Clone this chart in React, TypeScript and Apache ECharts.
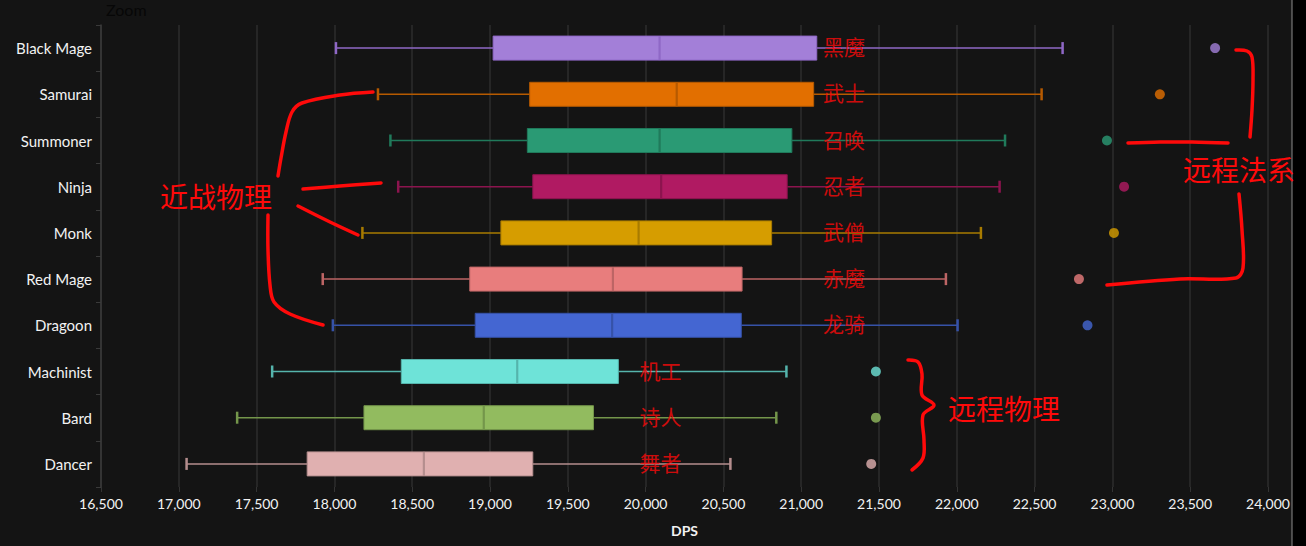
import React, { useEffect, useRef } from "react";
import * as echarts from "echarts";

const categories = ["Black Mage", "Samurai", "Summoner", "Ninja", "Monk", "Red Mage", "Dragoon", "Machinist", "Bard", "Dancer"];
const cnNames = ["黑魔", "武士", "召唤", "忍者", "武僧", "赤魔", "龙骑", "机工", "诗人", "舞者"];
const minVals = [18010, 18280, 18360, 18410, 18180, 17925, 17990, 17600, 17375, 17050];
const q1Vals = [19020, 19255, 19240, 19275, 19070, 18870, 18905, 18430, 18190, 17825];
const medianVals = [20090, 20200, 20090, 20100, 19955, 19790, 19785, 19175, 18960, 18575];
const q3Vals = [21100, 21080, 20940, 20910, 20810, 20620, 20615, 19825, 19665, 19275];
const maxVals = [22680, 22545, 22310, 22275, 22155, 21930, 22005, 20905, 20840, 20545];
const outlierVals = [23660, 23305, 22965, 23075, 23010, 22785, 22840, 21480, 21480, 21450];
const labelAnchor = [21140, 21140, 21140, 21140, 21140, 21140, 21140, 19960, 19960, 19960];

const fills = ["#a37fd8", "#e26f00", "#2a9a74", "#b01a62", "#d69d00", "#e87d7d", "#4466d2", "#6ee3d8", "#92bb5f", "#e0b0b0"];
const borders = ["#8f68c6", "#b65a00", "#207a5b", "#8c144e", "#a87b00", "#bd6565", "#3652a8", "#55b4ac", "#74964b", "#b58e8e"];

const boxData = categories.map((_, i) => [i, minVals[i], q1Vals[i], medianVals[i], q3Vals[i], maxVals[i]]);

export default function App() {
  const ref = useRef<HTMLDivElement>(null);
  useEffect(() => {
    if (!ref.current) return;
    const chart = echarts.init(ref.current, null, { renderer: "svg" });
    const RED = "#ff0a0a";
    const stroke = (points: number[][]) => ({
      type: "polyline",
      z: 100,
      shape: { points, smooth: 0.35 },
      style: { stroke: RED, lineWidth: 3.5, fill: null, lineCap: "round", lineJoin: "round" },
    });
    const bigText = (x: number, y: number, text: string) => ({
      type: "text",
      z: 100,
      x,
      y,
      style: { text, fill: RED, font: "28px 'Noto Sans CJK SC'", textVerticalAlign: "middle" },
    });
    chart.setOption({
      animation: false,
      backgroundColor: "#141414",
      title: {
        text: "Zoom",
        left: 101,
        top: -4,
        textStyle: { color: "#070707", fontSize: 16, fontWeight: "normal", fontFamily: "Lato" },
      },
      grid: { left: 101, right: 38, top: 25, bottom: 59 },
      xAxis: {
        type: "value",
        min: 16500,
        max: 24000,
        interval: 500,
        name: "DPS",
        nameLocation: "middle",
        nameGap: 36,
        nameTextStyle: { color: "#f2f2f2", fontSize: 14, fontWeight: "bold", fontFamily: "Lato" },
        axisLine: { show: false },
        axisTick: { show: true, length: 5, lineStyle: { color: "#333" } },
        axisLabel: {
          color: "#f2f2f2",
          fontSize: 14,
          fontFamily: "Lato",
          margin: 9,
          formatter: (v: number) => v.toLocaleString("en-US"),
        },
        splitLine: { show: true, lineStyle: { color: "#2c2c2c", width: 1.5 } },
      },
      yAxis: {
        type: "category",
        data: categories,
        inverse: true,
        axisLine: { show: true, lineStyle: { color: "#3a3a3a", width: 1.5 } },
        axisTick: { show: true, length: 5, lineStyle: { color: "#3a3a3a" } },
        axisLabel: { color: "#f2f2f2", fontSize: 15, fontFamily: "Lato", margin: 9 },
        splitLine: { show: false },
      },
      series: [
        {
          type: "custom",
          data: boxData,
          encode: { x: [1, 2, 3, 4, 5], y: 0 },
          renderItem: (params: any, api: any) => {
            const i = params.dataIndex;
            const cat = api.value(0);
            const pMin = api.coord([api.value(1), cat]);
            const xQ1 = api.coord([api.value(2), cat])[0];
            const xMed = api.coord([api.value(3), cat])[0];
            const xQ3 = api.coord([api.value(4), cat])[0];
            const xMax = api.coord([api.value(5), cat])[0];
            const xMin = pMin[0];
            const y = pMin[1];
            const band = api.size([0, 1])[1];
            const h = band * 0.52;
            const cap = h * 0.5;
            const c = fills[i];
            const b = borders[i];
            return {
              type: "group",
              children: [
                { type: "line", shape: { x1: xMin, y1: y, x2: xQ1, y2: y }, style: { stroke: b, lineWidth: 1.5 } },
                { type: "line", shape: { x1: xQ3, y1: y, x2: xMax, y2: y }, style: { stroke: b, lineWidth: 1.5 } },
                { type: "line", shape: { x1: xMin, y1: y - cap / 2, x2: xMin, y2: y + cap / 2 }, style: { stroke: b, lineWidth: 2.5 } },
                { type: "line", shape: { x1: xMax, y1: y - cap / 2, x2: xMax, y2: y + cap / 2 }, style: { stroke: b, lineWidth: 2.5 } },
                { type: "rect", shape: { x: xQ1, y: y - h / 2, width: xQ3 - xQ1, height: h }, style: { fill: c, stroke: b, lineWidth: 1 } },
                { type: "line", shape: { x1: xMed, y1: y - h / 2, x2: xMed, y2: y + h / 2 }, style: { stroke: b, lineWidth: 2.2 } },
              ],
            };
          },
        },
        {
          type: "scatter",
          symbolSize: 10,
          data: categories.map((c, i) => ({ value: [outlierVals[i], c], itemStyle: { color: fills[i] } })),
        },
        {
          type: "scatter",
          symbolSize: 0,
          silent: true,
          z: 10,
          data: categories.map((c, i) => [labelAnchor[i], c]),
          label: {
            show: true,
            position: "right",
            distance: 0,
            offset: [0, -2],
            color: RED,
            fontSize: 21,
            fontFamily: "Noto Sans CJK SC",
            formatter: (p: any) => cnNames[p.dataIndex],
          },
        },
      ],
      graphic: [
        { type: "rect", z: 50, shape: { x: 1292, y: 0, width: 14, height: 546 }, style: { fill: "#000" } },
        { type: "line", z: 51, shape: { x1: 1292, y1: 0, x2: 1292, y2: 546 }, style: { stroke: "#8a8a8a", lineWidth: 1 } },
        stroke([[373, 92], [340, 95], [302, 103], [292, 112], [286, 132], [281, 158], [278, 176]]),
        stroke([[303, 189], [340, 186], [381, 183]]),
        stroke([[298, 206], [330, 222], [358, 235]]),
        stroke([[268, 215], [268, 250], [270, 285], [274, 302], [290, 314], [323, 325]]),
        bigText(160, 196, "近战物理"),
        stroke([[1236, 50], [1247, 51], [1252, 57], [1253, 80], [1252, 110], [1250, 137]]),
        stroke([[1128, 143], [1160, 142], [1192, 142], [1228, 143]]),
        stroke([[1239, 194], [1242, 230], [1243, 268], [1236, 278], [1180, 279], [1107, 285]]),
        bigText(1183, 169, "远程法系"),
        stroke([[908, 360], [918, 362], [922, 374], [922, 395], [934, 405], [923, 415], [924, 440], [923, 458], [912, 470]]),
        bigText(948, 408, "远程物理"),
      ],
    });
    return () => chart.dispose();
  }, []);
  return (
    <div style={{ position: "fixed", left: 0, top: 0, width: 1306, height: 546, background: "#000" }}>
      <div ref={ref} style={{ width: 1306, height: 546 }} />
    </div>
  );
}
